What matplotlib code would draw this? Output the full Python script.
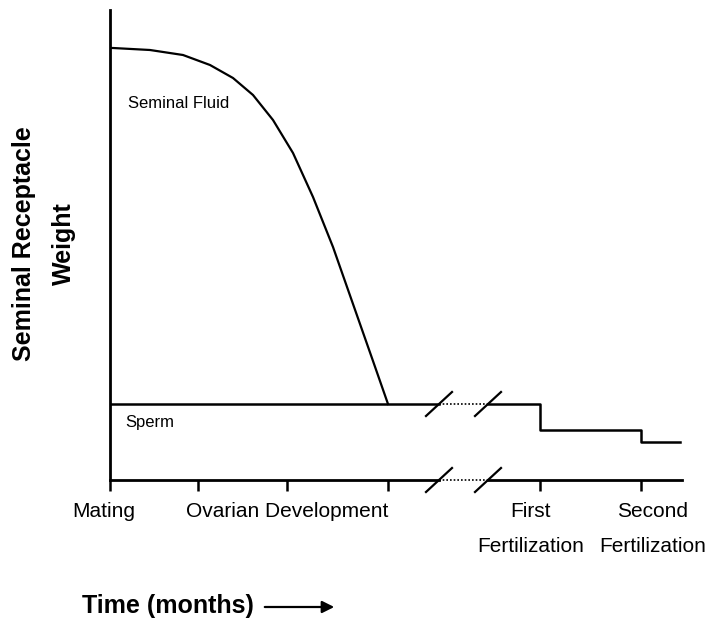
import matplotlib.pyplot as plt
from matplotlib.transforms import ScaledTranslation

plt.rcParams['font.family'] = ['Liberation Sans', 'DejaVu Sans']

# x: time (arbitrary units, origin = mating), y: receptacle weight (arbitrary units)
fluid_x = [0, 3, 40, 73, 100, 123, 143, 163, 183, 203, 223, 243, 263, 278]
fluid_y = [432, 432, 430, 425, 415, 402, 385, 360, 327, 283, 233, 176, 119, 76]

sperm_x = [0, 430, 430, 531, 531, 570]
sperm_y = [76, 76, 50, 50, 38, 38]

tick_pos = [0, 88, 177, 278, 430, 531]
tick_labels = ['Mating', '', 'Ovarian Development', '', 'First\nFertilization',
               'Second\nFertilization']
label_shift = [-6, 0, 0, 0, -9, 12]   # px, horizontal nudge of tick labels

break_a, break_b = 329, 378   # axis break (slashes)

fig = plt.figure(figsize=(7.07, 6.2), dpi=100)
ax = fig.add_axes([110/707, 140/620, 572/707, 470/620])
ax.set_xlim(0, 572)
ax.set_ylim(0, 470)

# seminal fluid curve
ax.plot(fluid_x, fluid_y, color='black', lw=1.6, solid_joinstyle='round')

# sperm line with a break
ax.plot([0, break_a], [sperm_y[0], sperm_y[0]], color='black', lw=1.8)
ax.plot([break_a, break_b], [sperm_y[0], sperm_y[0]], color='black', lw=1.2, ls=(0, (1, 1.2)))
ax.plot([break_b] + sperm_x[1:], [sperm_y[0]] + sperm_y[1:], color='black', lw=1.8)

# x axis with a break
ax.plot([0, break_a], [0, 0], color='black', lw=2, clip_on=False)
ax.plot([break_a, break_b], [0, 0], color='black', lw=1.2, ls=(0, (1, 1.2)), clip_on=False)
ax.plot([break_b, 572], [0, 0], color='black', lw=2, clip_on=False)

# break slashes
for bx in (break_a, break_b):
    for by in (sperm_y[0], 0):
        ax.plot([bx - 13, bx + 13], [by - 12, by + 12], color='black', lw=1.6,
                clip_on=False)

for s in ['top', 'right', 'bottom']:
    ax.spines[s].set_visible(False)
ax.spines['left'].set_linewidth(2)

ax.set_yticks([])
ax.set_xticks(tick_pos)
ax.set_xticklabels(tick_labels, fontsize=15, linespacing=2.05, va='top')
ax.tick_params(axis='x', direction='out', length=8, width=1.8, pad=8)
for lab, dx in zip(ax.get_xticklabels(), label_shift):
    lab.set_transform(lab.get_transform() + ScaledTranslation(dx / 100, 0, fig.dpi_scale_trans))

ax.text(18, 377, 'Seminal Fluid', fontsize=12, va='center')
ax.text(15, 57, 'Sperm', fontsize=12, va='center')

fig.text(24/707, 1 - 244/620, 'Seminal Receptacle', rotation=90, fontsize=18,
         fontweight='bold', ha='center', va='center')
fig.text(64/707, 1 - 244/620, 'Weight', rotation=90, fontsize=18,
         fontweight='bold', ha='center', va='center')

fig.text(82/707, 1 - 606/620, 'Time (months)', fontsize=18, fontweight='bold',
         ha='left', va='center')
fig.add_artist(plt.Annotation('', xy=(337/707, 1 - 607/620), xytext=(262/707, 1 - 607/620),
                              xycoords='figure fraction',
                              arrowprops=dict(arrowstyle='-|>', color='black', lw=1.6,
                                              mutation_scale=18)))

fig.savefig('out.png', dpi=100)
